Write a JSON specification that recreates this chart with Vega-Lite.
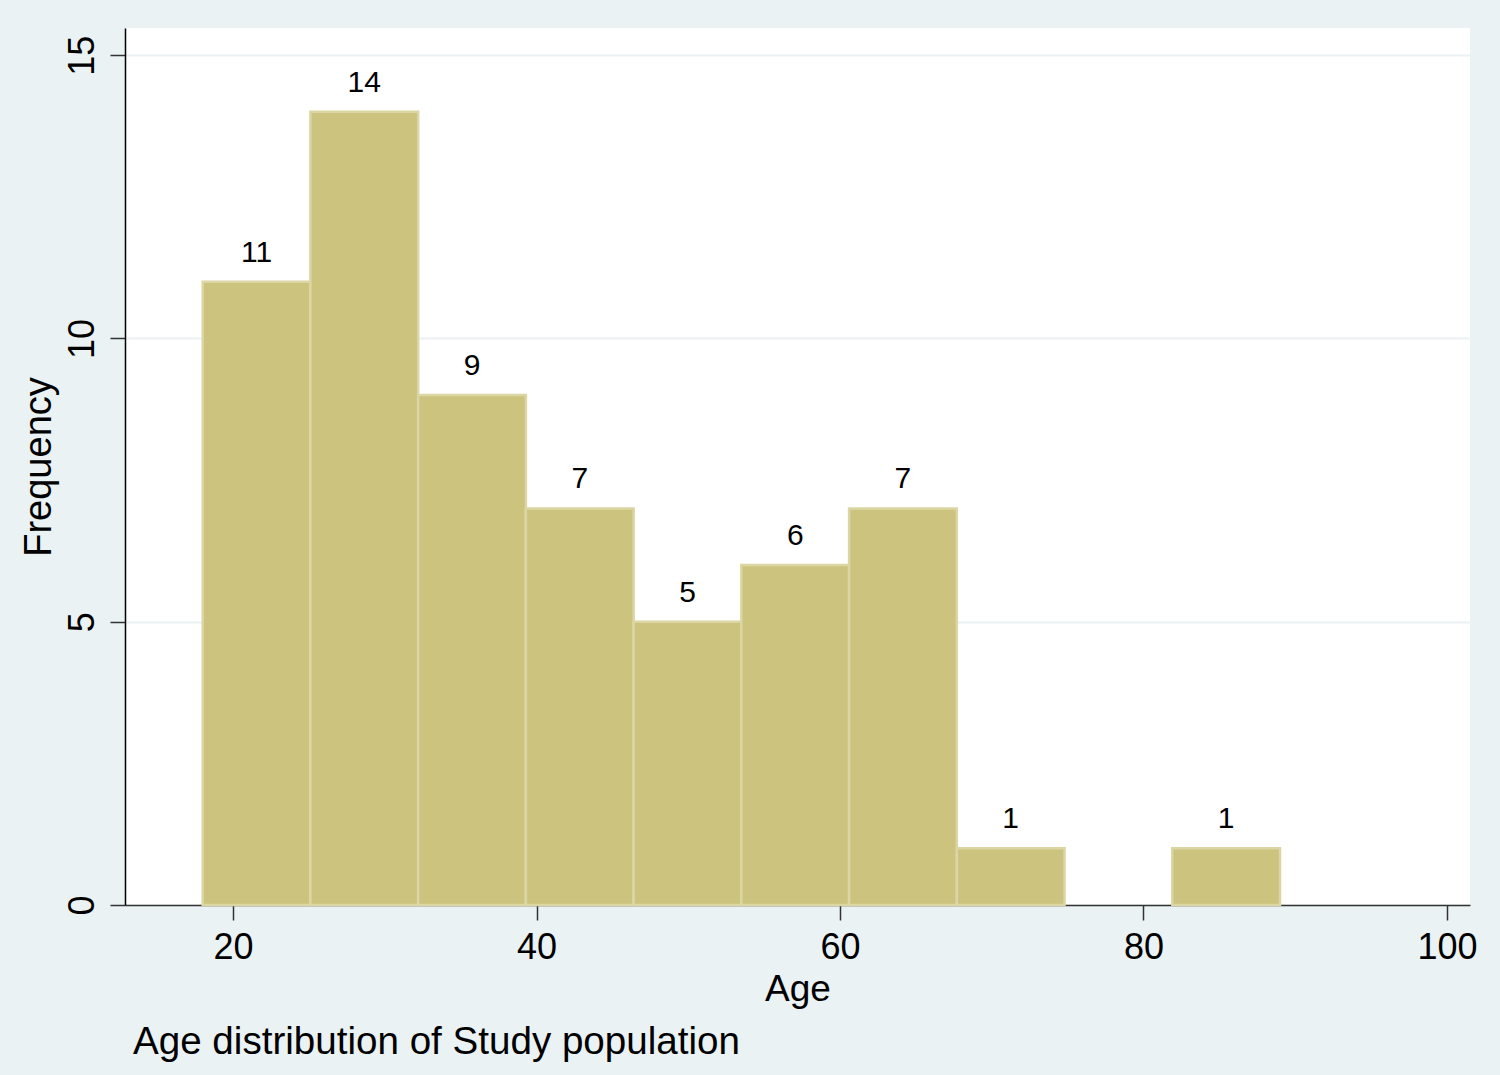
{
  "$schema": "https://vega.github.io/schema/vega-lite/v6.json",
  "autosize": {"type": "none"},
  "width": 1345,
  "height": 877,
  "padding": {"left": 125, "top": 28, "right": 30, "bottom": 170},
  "background": "#EAF2F3",
  "view": {"fill": "#FFFFFF", "stroke": null},
  "config": {
    "font": "Liberation Sans",
    "axis": {"labelFont": "Liberation Sans", "titleFont": "Liberation Sans", "labelColor": "#000000", "titleColor": "#000000", "titleFontWeight": "normal"}
  },
  "title": {
    "text": "Age distribution of Study population",
    "orient": "bottom",
    "anchor": "start",
    "frame": "group",
    "baseline": "alphabetic",
    "offset": 47,
    "dx": 8,
    "fontSize": 38.6,
    "fontWeight": "normal",
    "font": "Liberation Sans",
    "color": "#000000"
  },
  "data": {
    "values": [
      {"bin_start": 18.0, "bin_end": 25.1, "count": 11},
      {"bin_start": 25.1, "bin_end": 32.2, "count": 14},
      {"bin_start": 32.2, "bin_end": 39.3, "count": 9},
      {"bin_start": 39.3, "bin_end": 46.4, "count": 7},
      {"bin_start": 46.4, "bin_end": 53.5, "count": 5},
      {"bin_start": 53.5, "bin_end": 60.6, "count": 6},
      {"bin_start": 60.6, "bin_end": 67.7, "count": 7},
      {"bin_start": 67.7, "bin_end": 74.8, "count": 1},
      {"bin_start": 74.8, "bin_end": 81.9, "count": 0},
      {"bin_start": 81.9, "bin_end": 89.0, "count": 1}
    ]
  },
  "transform": [{"filter": "datum.count > 0"}],
  "encoding": {
    "y": {
      "field": "count",
      "type": "quantitative",
      "scale": {"domain": [0, 15.48], "nice": false, "zero": true, "padding": 0},
      "axis": {
        "title": "Frequency",
        "titleFontSize": 38,
        "titleX": -75,
        "titleBaseline": "alphabetic",
        "titleAngle": -90,
        "values": [0, 5, 10, 15],
        "labelAngle": -90,
        "labelAlign": "center",
        "labelBaseline": "alphabetic",
        "labelPadding": 17,
        "labelFontSize": 36,
        "tickSize": 15,
        "tickColor": "#333333",
        "tickWidth": 1.5,
        "domainColor": "#000000",
        "domainWidth": 1.5,
        "grid": true,
        "gridColor": "#EAF2F3",
        "gridWidth": 2,
        "labelFlush": false,
        "labelOverlap": false
      }
    }
  },
  "layer": [
    {
      "mark": {"type": "bar", "fill": "#CBC37E", "stroke": "#DBD6A4", "strokeWidth": 2.5, "orient": "vertical"},
      "encoding": {
        "x": {
          "field": "bin_start",
          "type": "quantitative",
          "scale": {"domain": [12.88, 101.52], "nice": false, "zero": false, "padding": 0},
          "axis": {
            "title": "Age",
            "titleFontSize": 37,
            "titleBaseline": "alphabetic",
            "titleY": 95,
            "values": [20, 40, 60, 80, 100],
            "labelBaseline": "alphabetic",
            "labelPadding": 38,
            "labelFontSize": 36,
            "tickSize": 15,
            "tickColor": "#333333",
            "tickWidth": 1.5,
            "domainColor": "#333333",
            "domainWidth": 1.5,
            "grid": false,
            "labelFlush": false,
            "labelOverlap": false
          }
        },
        "x2": {"field": "bin_end"},
        "y2": {"datum": 0}
      }
    },
    {
      "transform": [
        {"calculate": "(datum.bin_start + datum.bin_end) / 2", "as": "bin_mid"}
      ],
      "mark": {"type": "text", "baseline": "alphabetic", "dy": -20, "fontSize": 30, "font": "Liberation Sans", "color": "#000000"},
      "encoding": {
        "x": {"field": "bin_mid", "type": "quantitative"},
        "text": {"field": "count", "type": "quantitative"}
      }
    }
  ]
}
